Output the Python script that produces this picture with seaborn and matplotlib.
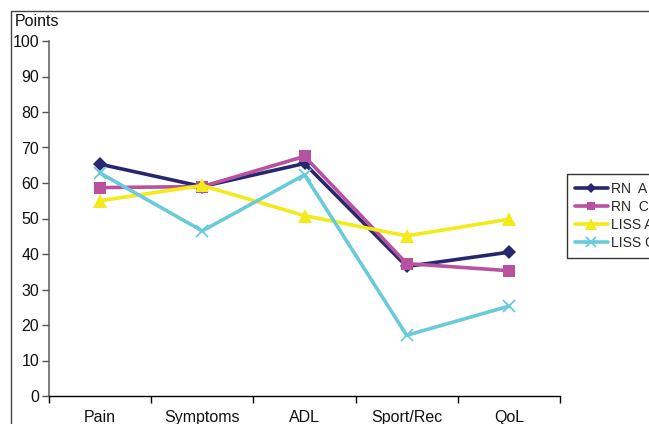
import matplotlib
matplotlib.use("Agg")
import matplotlib.pyplot as plt
from matplotlib.lines import Line2D
import seaborn as sns
import pandas as pd

# KOOS subscale scores per group
categories = ["Pain", "Symptoms", "ADL", "Sport/Rec", "QoL"]
rn_a = [65.3, 59.0, 65.5, 36.5, 40.5]
rn_c = [58.7, 59.0, 67.5, 37.3, 35.3]
liss_a = [55.0, 59.3, 50.8, 45.1, 49.8]
liss_c = [62.8, 46.5, 62.3, 17.1, 25.3]
series_names = ["RN  A", "RN  C", "LISS A", "LISS C"]
y_ticks = list(range(0, 101, 10))

sns.set_theme(style="white")
plt.rcParams["font.family"] = ["Liberation Sans", "DejaVu Sans"]

W, H = 649, 424
fig = plt.figure(figsize=(W / 100, H / 100), dpi=100)
ax = fig.add_axes([49 / W, 1 - 396 / H, (560 - 49) / W, (396 - 41) / H])

styles = {
    "RN  A": dict(color="#27276f", marker="D", markersize=7, mew=0),
    "RN  C": dict(color="#b8519f", marker="s", markersize=8, mew=0),
    "LISS A": dict(color="#f3ea1a", marker="^", markersize=10, mew=0),
    "LISS C": dict(color="#69cbd9", marker="x", markersize=9, mew=1.3),
}
values = dict(zip(series_names, [rn_a, rn_c, liss_a, liss_c]))

handles = []
for name in series_names:
    df = pd.DataFrame({"pos": range(len(categories)), "value": values[name]})
    st = styles[name]
    sns.lineplot(data=df, x="pos", y="value", ax=ax, color=st["color"],
                 linewidth=2.6, marker=st["marker"], markersize=st["markersize"],
                 markeredgewidth=st["mew"], markeredgecolor=st["color"],
                 markerfacecolor=st["color"], legend=False)
    handles.append(Line2D([], [], color=st["color"], linewidth=2.6,
                          marker=st["marker"], markersize=st["markersize"] * 0.8,
                          markeredgewidth=st["mew"], markeredgecolor=st["color"],
                          markerfacecolor=st["color"]))

ax.set_xlim(-0.5, len(categories) - 0.5)
ax.set_ylim(0, 100)
ax.set_yticks(y_ticks)
ax.set_yticklabels([str(t) for t in y_ticks], fontsize=11.5, color="#111111")
ax.set_xticks(range(len(categories)))
ax.set_xticklabels(categories, fontsize=11.5, color="#111111")
ax.set_xticks([i - 0.5 for i in range(len(categories) + 1)], minor=True)
ax.tick_params(axis="x", which="major", length=0, pad=10)
ax.tick_params(axis="x", which="minor", length=5, width=1, color="black",
               direction="out", bottom=True)
ax.tick_params(axis="y", which="major", length=5, width=1, color="#555555",
               direction="out", left=True, pad=2)
ax.set_xlabel("")
ax.set_ylabel("")

for side in ["top", "right"]:
    ax.spines[side].set_visible(False)
ax.spines["left"].set_color("#666666")
ax.spines["left"].set_linewidth(1.2)
ax.spines["bottom"].set_color("black")
ax.spines["bottom"].set_linewidth(1.0)

fig.text(15 / W, 1 - 22 / H, "Points", fontsize=11.5, va="center", ha="left",
         color="#111111")

# outer frame of the chart area
fig.add_artist(Line2D([11 / W, 11 / W, 1.2], [-0.2, 1 - 11 / H, 1 - 11 / H],
                      transform=fig.transFigure, color="#444444", linewidth=1.0))

leg = fig.legend(handles, series_names, loc="upper left",
                 bbox_to_anchor=(567 / W, 1 - 174 / H),
                 frameon=True, fancybox=False, fontsize=10,
                 handlelength=2.4, handletextpad=0.2, labelspacing=0.3,
                 borderpad=0.55, borderaxespad=0)
leg.get_frame().set_edgecolor("black")
leg.get_frame().set_linewidth(1.0)

fig.savefig("out.png", dpi=100)
